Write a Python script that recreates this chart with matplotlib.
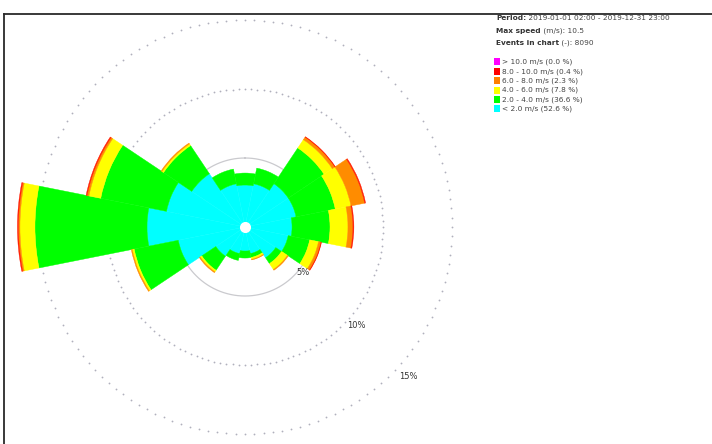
import numpy as np
import matplotlib
matplotlib.use("Agg")
import matplotlib.pyplot as plt
from matplotlib.patches import Rectangle
from matplotlib.lines import Line2D

# 16 compass sectors, clockwise from north
directions = ["N", "NNE", "NE", "ENE", "E", "ESE", "SE", "SSE",
              "S", "SSW", "SW", "WSW", "W", "WNW", "NW", "NNW"]
direction_deg = [0.0, 22.5, 45.0, 67.5, 90.0, 112.5, 135.0, 157.5,
                 180.0, 202.5, 225.0, 247.5, 270.0, 292.5, 315.0, 337.5]

# frequency (%) of each speed class per sector
calm_lt2 = [3.04, 3.19, 3.77, 3.77, 3.41, 3.19, 2.68, 1.96,
            1.74, 1.96, 2.54, 4.93, 7.10, 5.80, 4.64, 3.19]
speed_2_4 = [0.87, 1.16, 3.12, 2.90, 2.75, 1.59, 0.51, 0.29,
             0.51, 0.51, 1.23, 3.26, 8.12, 4.86, 2.46, 1.09]
speed_4_6 = [0.00, 0.00, 0.72, 1.16, 1.30, 0.65, 0.51, 0.14,
             0.00, 0.00, 0.14, 0.14, 1.09, 0.87, 0.14, 0.00]
speed_6_8 = [0.00, 0.00, 0.22, 1.01, 0.36, 0.18, 0.07, 0.04,
             0.00, 0.00, 0.07, 0.07, 0.11, 0.14, 0.07, 0.00]
speed_8_10 = [0.00, 0.00, 0.04, 0.07, 0.07, 0.04, 0.00, 0.00,
              0.00, 0.00, 0.00, 0.00, 0.07, 0.07, 0.00, 0.00]
speed_gt10 = [0.0] * 16

series = [calm_lt2, speed_2_4, speed_4_6, speed_6_8, speed_8_10, speed_gt10]
series_colors = ["#00ffff", "#00ff00", "#ffff00", "#ff8c00", "#ff1a00", "#ff00ff"]

legend_labels = ["> 10.0 m/s (0.0 %)", "8.0 - 10.0 m/s (0.4 %)",
                 "6.0 - 8.0 m/s (2.3 %)", "4.0 - 6.0 m/s (7.8 %)",
                 "2.0 - 4.0 m/s (36.6 %)", "< 2.0 m/s (52.6 %)"]
legend_colors = ["#ff00ff", "#ff0000", "#ff8000", "#ffff00", "#00ff00", "#00ffff"]

ring_values = [5, 10, 15]
ring_labels = ["5%", "10%", "15%"]
ring_label_pos = [(128.0, 5.3), (131.5, 10.8), (132.6, 16.05)]

period_text = "2019-01-01 02:00 - 2019-12-31 23:00"
max_speed_text = "(m/s): 10.5"
events_text = "(-): 8090"

W, H = 712, 444
fig = plt.figure(figsize=(W / 100, H / 100), dpi=100)

# polar axes: centre at (245, 227) px, 13.8 px per percent
cx, cy, ppp, rmax = 245, 227, 13.8, 17.0
R = rmax * ppp
ax = fig.add_axes([(cx - R) / W, (H - cy - R) / H, 2 * R / W, 2 * R / H],
                  projection="polar")
ax.set_theta_zero_location("N")
ax.set_theta_direction(-1)
ax.set_ylim(0, rmax)
ax.grid(False)
ax.set_xticks([])
ax.set_yticks([])
ax.spines["polar"].set_visible(False)
ax.patch.set_alpha(0)

theta = np.deg2rad(direction_deg)
width = 2 * np.pi / len(directions)
bottom = np.zeros(len(directions))
for vals, col in zip(series, series_colors):
    vals = np.asarray(vals)
    keep = vals > 0
    if keep.any():
        ax.bar(theta[keep], vals[keep], width=width, bottom=bottom[keep],
               color=col, edgecolor=col, linewidth=0.3, align="center",
               zorder=3)
    bottom = bottom + vals

# range rings
tt = np.linspace(0, 2 * np.pi, 141)[:-1]
for i, rv in enumerate(ring_values):
    if i == 0:
        ax.plot(np.linspace(0, 2 * np.pi, 361), np.full(361, rv),
                color="#cacace", lw=0.9, zorder=2)
    else:
        ax.plot(tt, np.full_like(tt, rv), linestyle="none", marker="o",
                markersize=1.3, markeredgewidth=0, color="#b0b0bc", zorder=2)

for lab, (ang, rr) in zip(ring_labels, ring_label_pos):
    ax.text(np.deg2rad(ang), rr, lab, fontsize=6, color="#333333",
            ha="center", va="center", zorder=5)

ax.plot([0], [0], marker="o", markersize=8, markeredgewidth=0,
        color="white", zorder=6)

# frame lines (top and left)
fig.add_artist(Line2D([3.5 / W, 1.0], [1 - 14 / H, 1 - 14 / H],
                      color="#2a2a2a", lw=1.3))
fig.add_artist(Line2D([3.5 / W, 3.5 / W], [0.0, 1 - 14 / H],
                      color="#2a2a2a", lw=1.3))

# info block
fs = 5.3
tx = 496 / W
for y_px, bold, rest in [(18, "Period:", " " + period_text),
                         (31, "Max speed", " " + max_speed_text),
                         (43, "Events in chart", " " + events_text)]:
    t = fig.text(tx, 1 - y_px / H, bold, fontsize=fs, fontweight="bold",
                 color="#333333", ha="left", va="center")
    ax.annotate(rest, xy=(1, 0.5), xycoords=t, fontsize=fs,
                color="#444444", ha="left", va="center",
                annotation_clip=False)

for i, (lab, col) in enumerate(zip(legend_labels, legend_colors)):
    yc = 62 + i * 9.4
    fig.add_artist(Rectangle((494 / W, 1 - (yc + 3.5) / H), 6 / W, 7 / H,
                             facecolor=col, edgecolor="none",
                             transform=fig.transFigure))
    fig.text(502 / W, 1 - yc / H, lab, fontsize=fs, color="#444444",
             ha="left", va="center")

fig.savefig("out.png", dpi=100, facecolor="white")
